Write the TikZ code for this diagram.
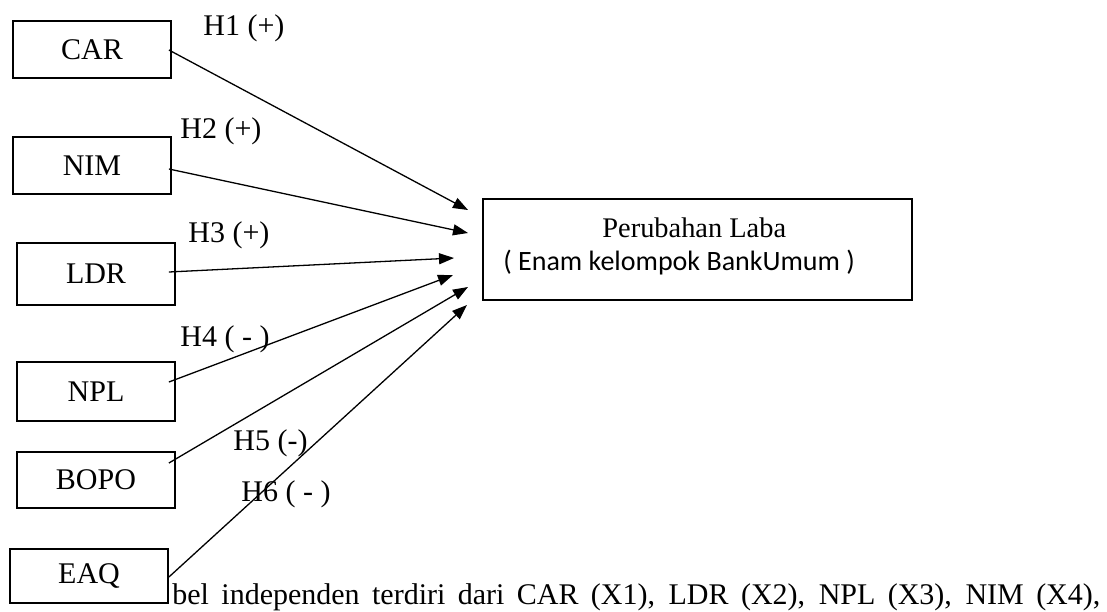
\documentclass[tikz,border=0pt]{standalone}
\usepackage{fontspec}
\setmainfont{Liberation Serif}
\newfontfamily\calibrifont{Carlito}
\usepackage{tikz}
\usetikzlibrary{arrows.meta,positioning}
\tikzstyle{varbox} = [draw, line width=0.9pt, fill=white, minimum width=79pt, inner sep=0pt]
\tikzstyle{arrow} = [line width=0.65pt, -{Triangle[length=7.5pt,width=5.5pt]}]
\tikzstyle{hlabel} = [anchor=base west, inner sep=0pt]

\begin{document}
\begin{tikzpicture}[x=0.5pt, y=-0.5pt, font=\fontsize{15}{18}\selectfont]
\useasboundingbox (0,0) rectangle (1107,611);

% Text of the page behind the picture
\node[anchor=base west, inner sep=0pt] (para) at (172,604)
  {\makebox[464pt][s]{bel independen terdiri dari CAR (X1), LDR (X2), NPL (X3), NIM (X4),}};

% Independent variables
\node[varbox, minimum height=28.5pt] (car) at (92,49.5) {CAR};
\node[varbox, minimum height=28.5pt] (nim) at (92,165.5) {NIM};
\node[varbox, minimum height=31pt] (ldr) at (96,274) {LDR};
\node[varbox, minimum height=29.5pt] (npl) at (96,391.5) {NPL};
\node[varbox, minimum height=28pt] (bopo) at (96,480) {BOPO};
\node[varbox, minimum height=27pt] (eaq) at (89,576) {EAQ};

% Dependent variable
\node[varbox, minimum width=214.5pt, minimum height=50.5pt] (laba) at (697.5,249.5) {};
\node[hlabel, font=\fontsize{14.2}{17}\selectfont] (labatitle) at (602,237) {Perubahan Laba};
\node[hlabel, font=\calibrifont\fontsize{14}{17}\selectfont] (labasub) at (503,270) {( Enam kelompok BankUmum )};

% Arrow ends
\coordinate (in1) at (468,210);
\coordinate (in2) at (468,233);
\coordinate (in3) at (454,258);
\coordinate (in4) at (453,275);
\coordinate (in5) at (468,287);
\coordinate (in6) at (467,305);

% Arrows
\draw[arrow] ([shift={(-3,0.5)}]car.east) -- (in1);
\draw[arrow] ([shift={(-3,3.5)}]nim.east) -- (in2);
\draw[arrow] ([shift={(-7,-2)}]ldr.east) -- (in3);
\draw[arrow] ([shift={(-7,-9.5)}]npl.east) -- (in4);
\draw[arrow] ([shift={(-7,-17)}]bopo.east) -- (in5);
\draw[arrow] ([shift={(0,1)}]eaq.east) -- (in6);

% Hypotheses
\node[hlabel] (h1) at (203,35) {H1 (+)};
\node[hlabel] (h2) at (180,138) {H2 (+)};
\node[hlabel] (h3) at (188,242) {H3 (+)};
\node[hlabel] (h4) at (180,346.5) {H4 ( - )};
\node[hlabel] (h5) at (233,450) {H5 (-)};
\node[hlabel] (h6) at (241,501.5) {H6 ( - )};
\end{tikzpicture}
\end{document}
